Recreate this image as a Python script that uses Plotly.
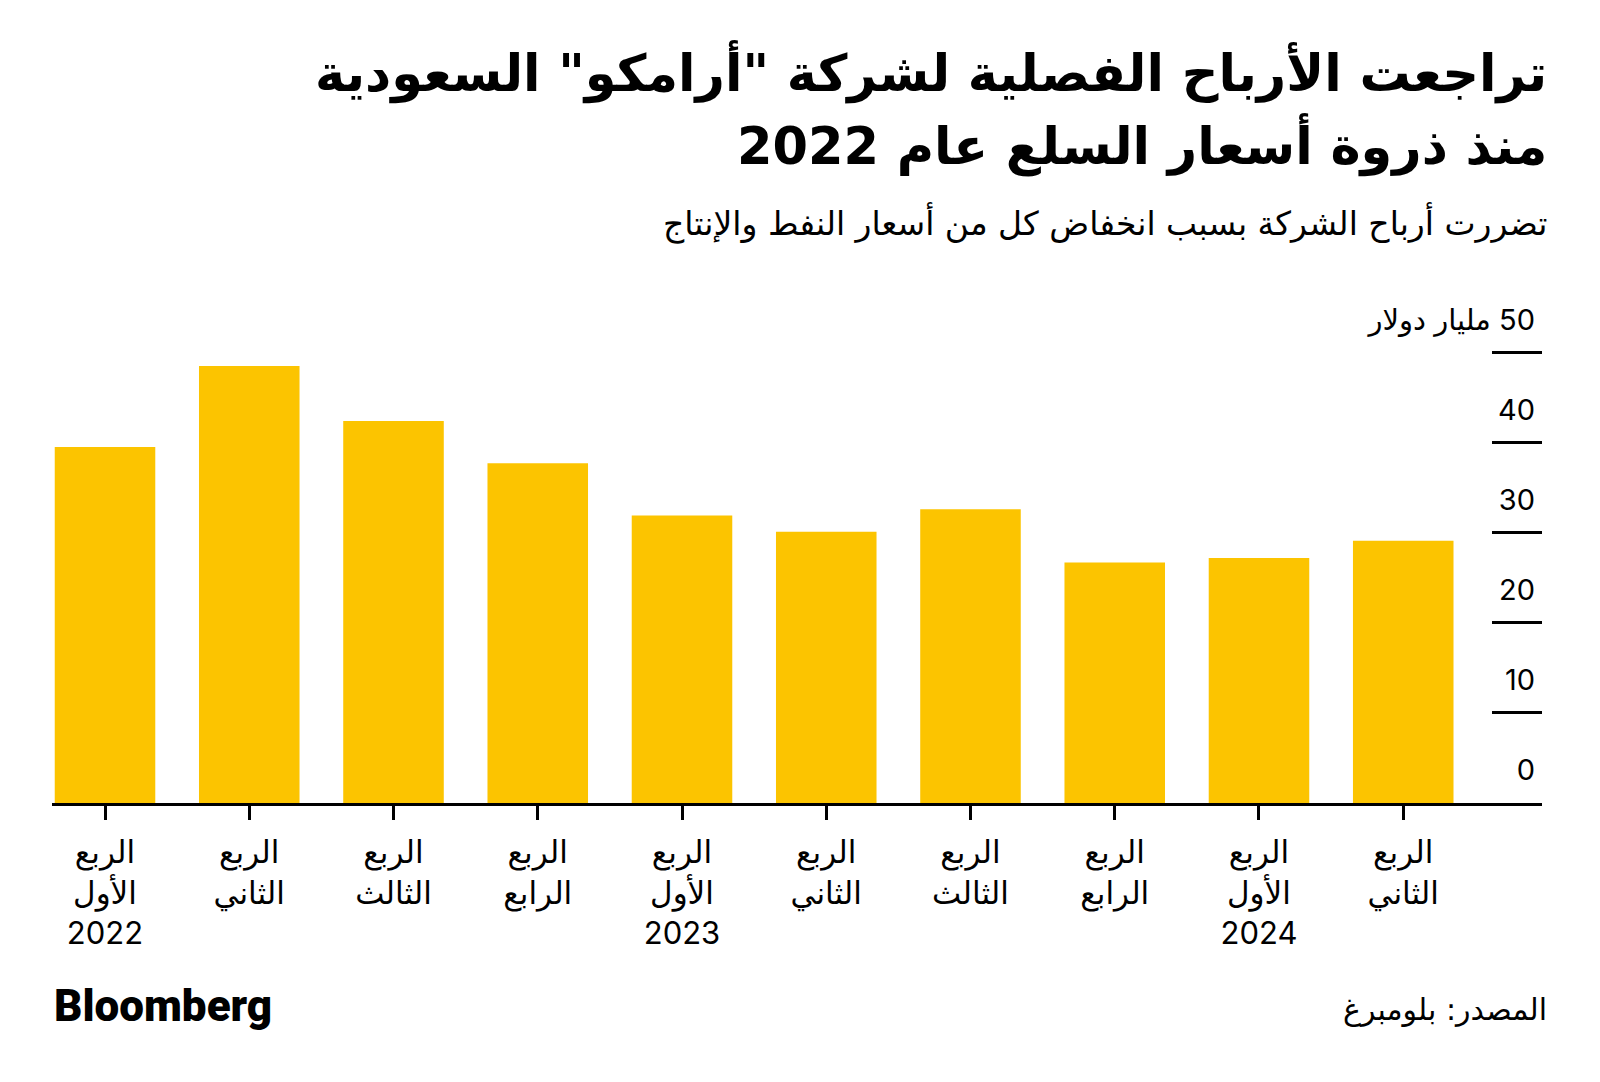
import plotly.graph_objects as go

quarters = ["الأول", "الثاني", "الثالث", "الرابع", "الأول", "الثاني", "الثالث", "الرابع", "الأول", "الثاني"]
years = ["2022", "", "", "", "2023", "", "", "", "2024", ""]
profits = [39.5, 48.5, 42.4, 37.7, 31.9, 30.1, 32.6, 26.7, 27.2, 29.1]
y_ticks = [0, 10, 20, 30, 40, 50]
y_unit = "مليار دولار"

tick_text = []
for q, yr in zip(quarters, years):
    t = "الربع<br>" + q
    if yr:
        t += "<br>" + yr
    tick_text.append(t)

y_tick_text = [str(v) for v in y_ticks[:-1]] + ["\u200f" + str(y_ticks[-1]) + " " + y_unit]

x = list(range(len(profits)))

FONT = "Inter, 'DejaVu Sans', sans-serif"
ARFONT = "'DejaVu Sans', sans-serif"

fig = go.Figure()
fig.add_trace(go.Bar(
    x=x, y=profits, width=0.697,
    marker=dict(color="#FCC400", line=dict(width=0)),
    hoverinfo="skip",
))
# empty trace so the label axis (y2) is drawn
fig.add_trace(go.Scatter(x=[], y=[], yaxis="y2", mode="markers", hoverinfo="skip", showlegend=False))

# page has an 8px body margin; figure sized so the plot lands at page coords
W, H = 1592, 1074
L, R = 44, 58
T, B = 327, 279
PLOT_TOP, PLOT_BOTTOM = 335, 803
plot_h = PLOT_BOTTOM - PLOT_TOP
YMAX = 51.94

def py(pix):
    return (PLOT_BOTTOM - pix) / plot_h

def px(pix):
    return (pix - 52) / 1490

fig.update_layout(
    width=W, height=H,
    margin=dict(l=L, r=R, t=T, b=B, pad=0),
    paper_bgcolor="white", plot_bgcolor="white",
    showlegend=False,
    font=dict(family=FONT, color="black", size=28),
    xaxis=dict(
        range=[-0.3675, 9.962],
        tickmode="array", tickvals=x, ticktext=tick_text,
        ticks="outside", ticklen=14, tickwidth=3, tickcolor="black",
        showline=True, linecolor="black", linewidth=3,
        showgrid=False, zeroline=False,
        tickfont=dict(family=FONT, size=31, color="black"),
        ticklabelstandoff=6,
        fixedrange=True,
    ),
    yaxis=dict(
        range=[0, YMAX], side="right",
        tickmode="array", tickvals=y_ticks,
        ticks="inside", ticklen=50, tickwidth=3, tickcolor="black",
        showticklabels=False,
        showline=False, showgrid=False, zeroline=False,
        fixedrange=True,
    ),
    yaxis2=dict(
        range=[0, YMAX], overlaying="y", side="left", anchor="free",
        position=px(1535),
        tickmode="array", tickvals=y_ticks, ticktext=y_tick_text,
        ticks="", ticklabelshift=-33,
        showline=False, showgrid=False, zeroline=False,
        tickfont=dict(family=FONT, size=29, color="black"),
        fixedrange=True,
    ),
    annotations=[
        dict(text='تراجعت الأرباح الفصلية لشركة "أرامكو" السعودية', xref="paper", yref="paper",
             x=1, y=py(72), xanchor="right", yanchor="middle", xshift=7, showarrow=False,
             font=dict(family=ARFONT, size=51, color="black", weight="bold")),
        dict(text="منذ ذروة أسعار السلع عام 2022", xref="paper", yref="paper",
             x=1, y=py(145), xanchor="right", yanchor="middle", xshift=7, showarrow=False,
             font=dict(family=ARFONT, size=51, color="black", weight="bold")),
        dict(text="تضررت أرباح الشركة بسبب انخفاض كل من أسعار النفط والإنتاج", xref="paper", yref="paper",
             x=1, y=py(223), xanchor="right", yanchor="middle", xshift=7, showarrow=False,
             font=dict(family=ARFONT, size=33, color="black")),
        dict(text="المصدر: بلومبرغ", xref="paper", yref="paper",
             x=1, y=py(1009), xanchor="right", yanchor="middle", xshift=7, showarrow=False,
             font=dict(family=ARFONT, size=30, color="black")),
        dict(text="Bloomberg", xref="paper", yref="paper",
             x=0, y=py(1006), xanchor="left", yanchor="middle", xshift=0, showarrow=False,
             font=dict(family="Roboto, Inter, sans-serif", size=44, color="black", weight=900)),
    ],
)

fig.write_html("out.html")
